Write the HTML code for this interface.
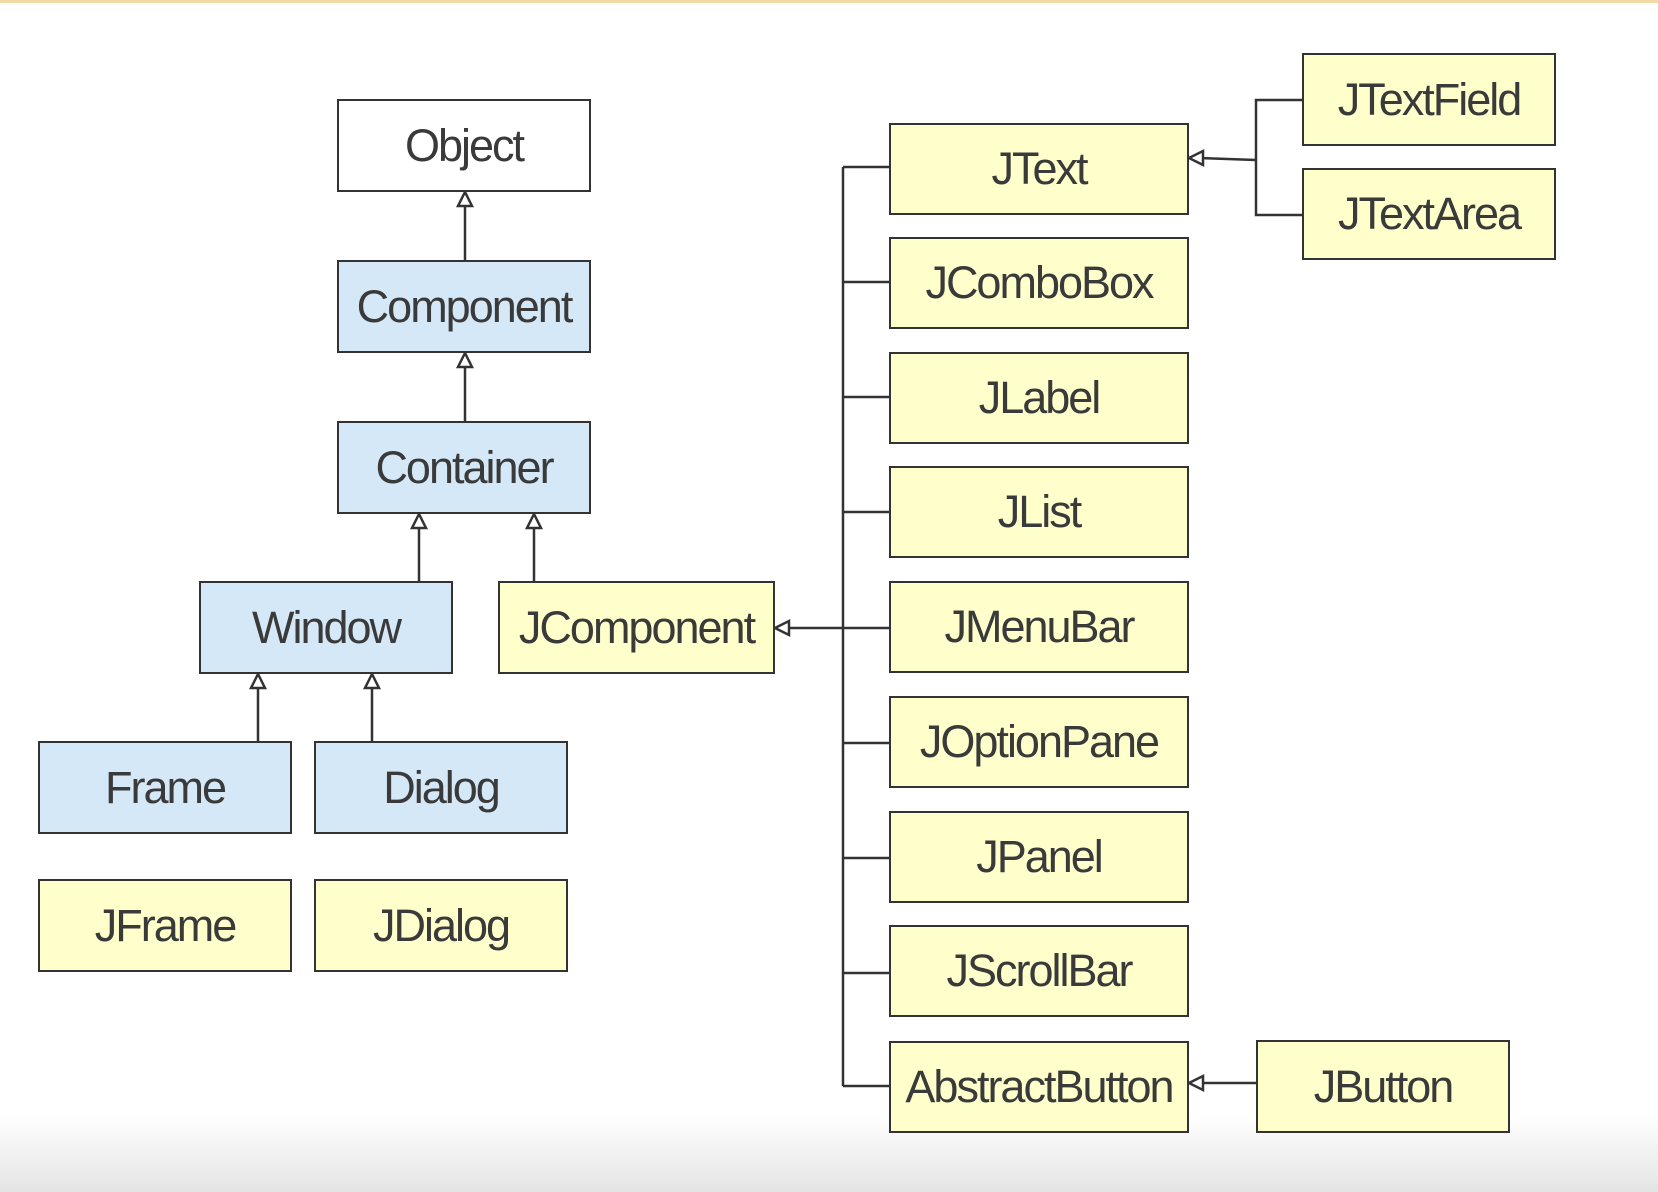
<!DOCTYPE html><html><head><style>
body{margin:0;background:#fff;width:1658px;height:1192px;overflow:hidden;position:relative;font-family:"Liberation Sans",sans-serif}
.b{position:absolute;border:2px solid #333;box-sizing:border-box;display:flex;align-items:center;justify-content:center;font-size:45px;color:#3a3a3a;letter-spacing:-2px;background:#ffffcc;white-space:nowrap}
.blue{background:#d4e8f8}.w{background:#fff}
</style></head><body>
<div style="position:absolute;left:0;top:0;width:1658px;height:3px;background:#f3d9a8"></div>
<div style="position:absolute;left:0;top:1115px;width:1658px;height:77px;background:linear-gradient(#fff,#e4e4e4)"></div>
<svg style="position:absolute;left:0;top:0" width="1658" height="1192">
<g stroke="#333" stroke-width="2.5" fill="#fff">
<line x1="465" y1="202" x2="465" y2="260"/><polygon points="465,192 458,206 472,206"/>
<line x1="465" y1="363" x2="465" y2="421"/><polygon points="465,353 458,367 472,367"/>
<line x1="419" y1="524" x2="419" y2="581"/><polygon points="419,514 412,528 426,528"/>
<line x1="534" y1="524" x2="534" y2="581"/><polygon points="534,514 527,528 541,528"/>
<line x1="258" y1="684" x2="258" y2="741"/><polygon points="258,674 251,688 265,688"/>
<line x1="372" y1="684" x2="372" y2="741"/><polygon points="372,674 365,688 379,688"/>
<polyline fill="none" points="785,628 843,628"/><polygon points="775,628 789,621 789,635"/>
<line x1="843" y1="167" x2="843" y2="1086"/>
<line x1="843" y1="167" x2="889" y2="167"/><line x1="843" y1="282" x2="889" y2="282"/><line x1="843" y1="397" x2="889" y2="397"/><line x1="843" y1="512" x2="889" y2="512"/><line x1="843" y1="628" x2="889" y2="628"/><line x1="843" y1="743" x2="889" y2="743"/><line x1="843" y1="858" x2="889" y2="858"/><line x1="843" y1="973" x2="889" y2="973"/><line x1="843" y1="1086" x2="889" y2="1086"/>
<polyline fill="none" points="1199,158 1256,160"/><polygon points="1189,158 1203,151 1203,165"/>
<polyline fill="none" points="1302,100 1256,100 1256,215 1302,215"/>
<line x1="1199" y1="1083" x2="1256" y2="1083"/><polygon points="1189,1083 1203,1076 1203,1090"/>
</g></svg>
<div class="b w" style="left:337px;top:99px;width:254px;height:93px">Object</div>
<div class="b blue" style="left:337px;top:260px;width:254px;height:93px">Component</div>
<div class="b blue" style="left:337px;top:421px;width:254px;height:93px">Container</div>
<div class="b blue" style="left:199px;top:581px;width:254px;height:93px">Window</div>
<div class="b" style="left:498px;top:581px;width:277px;height:93px">JComponent</div>
<div class="b blue" style="left:38px;top:741px;width:254px;height:93px">Frame</div>
<div class="b blue" style="left:314px;top:741px;width:254px;height:93px">Dialog</div>
<div class="b" style="left:38px;top:879px;width:254px;height:93px">JFrame</div>
<div class="b" style="left:314px;top:879px;width:254px;height:93px">JDialog</div>
<div class="b" style="left:889px;top:123px;width:300px;height:92px">JText</div>
<div class="b" style="left:889px;top:237px;width:300px;height:92px">JComboBox</div>
<div class="b" style="left:889px;top:352px;width:300px;height:92px">JLabel</div>
<div class="b" style="left:889px;top:466px;width:300px;height:92px">JList</div>
<div class="b" style="left:889px;top:581px;width:300px;height:92px">JMenuBar</div>
<div class="b" style="left:889px;top:696px;width:300px;height:92px">JOptionPane</div>
<div class="b" style="left:889px;top:811px;width:300px;height:92px">JPanel</div>
<div class="b" style="left:889px;top:925px;width:300px;height:92px">JScrollBar</div>
<div class="b" style="left:889px;top:1041px;width:300px;height:92px">AbstractButton</div>
<div class="b" style="left:1302px;top:53px;width:254px;height:93px">JTextField</div>
<div class="b" style="left:1302px;top:168px;width:254px;height:92px">JTextArea</div>
<div class="b" style="left:1256px;top:1040px;width:254px;height:93px">JButton</div>
</body></html>
